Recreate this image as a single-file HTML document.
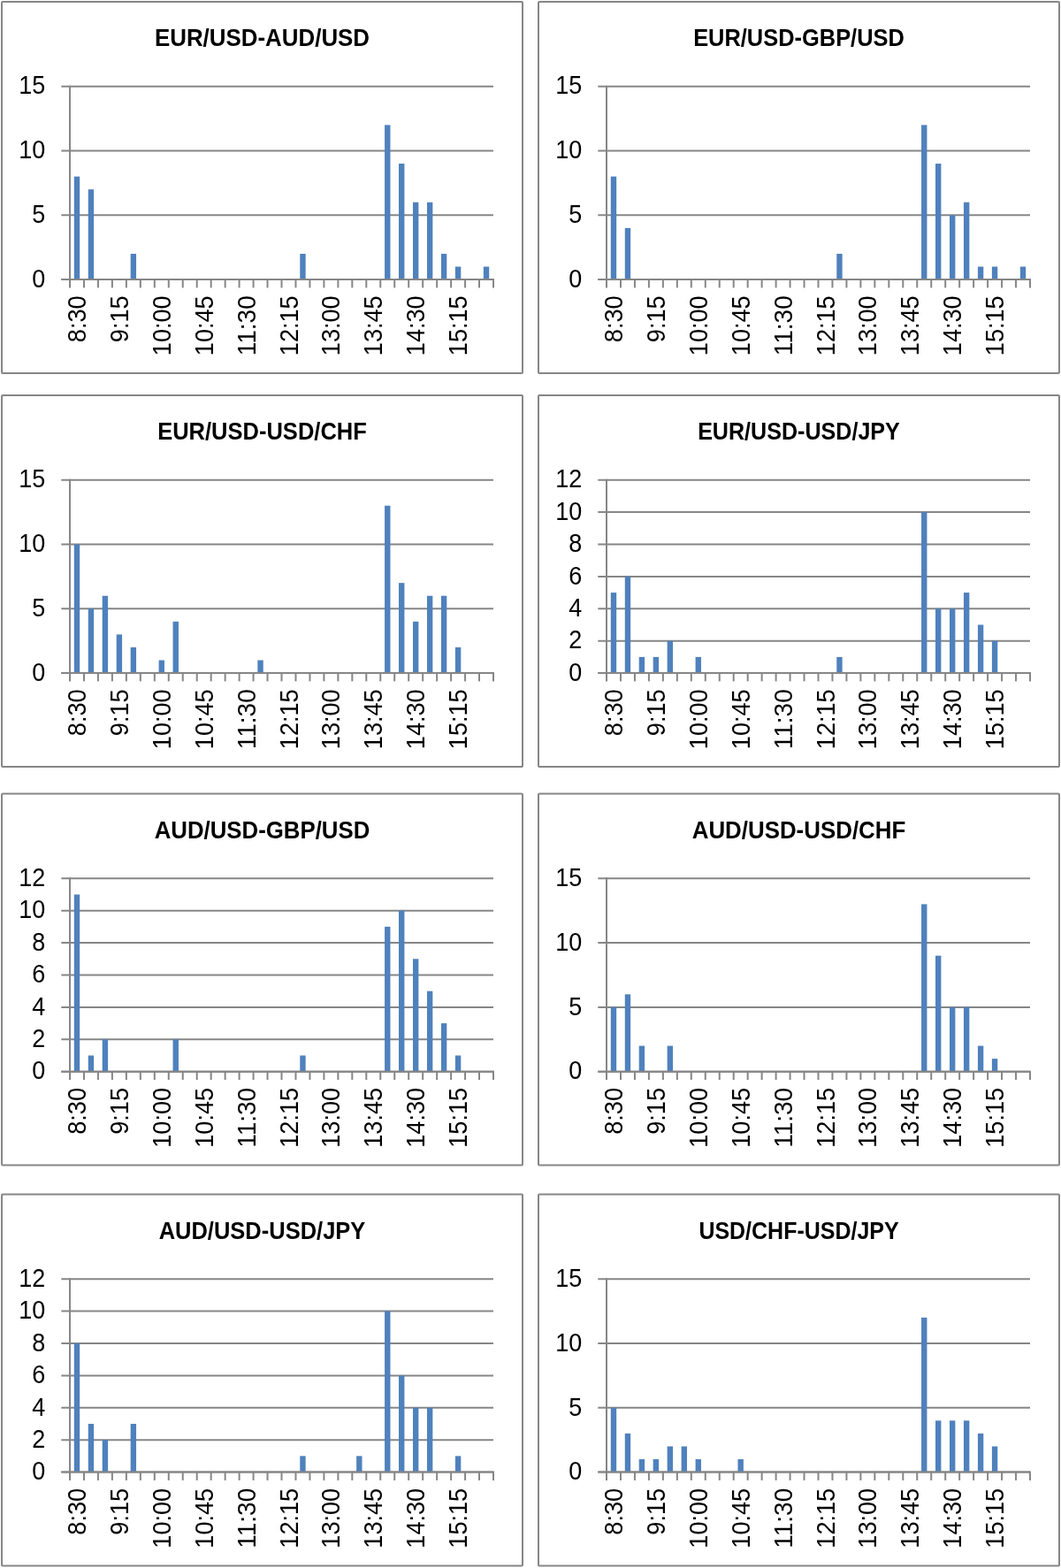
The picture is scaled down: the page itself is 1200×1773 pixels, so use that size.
<!DOCTYPE html>
<html><head><meta charset="utf-8"><title>Charts</title>
<style>
html,body{margin:0;padding:0;background:#fff;}
svg{display:block;}
.l{stroke:#868686;stroke-width:2;}
text{font-family:"Liberation Sans",Arial,sans-serif;fill:#000;}
.t{font-weight:bold;font-size:26.9px;text-anchor:middle;}
.y{font-size:29px;text-anchor:end;}
.x{font-size:29px;text-anchor:end;}
</style></head>
<body>
<svg width="1200" height="1773" viewBox="0 0 1200 1773">
<rect width="1200" height="1773" fill="#fff"/>
<g transform="translate(0,0)">
<rect x="2" y="2" width="589" height="420" rx="1" fill="#fff" stroke="#868686" stroke-width="2"/>
<text class="t" x="296.5" y="52.1" textLength="243.17" lengthAdjust="spacingAndGlyphs">EUR/USD-AUD/USD</text>
<line x1="69.3" y1="316.08" x2="558" y2="316.08" class="l"/>
<line x1="69.3" y1="243.28" x2="558" y2="243.28" class="l"/>
<line x1="69.3" y1="170.47" x2="558" y2="170.47" class="l"/>
<line x1="69.3" y1="97.67" x2="558" y2="97.67" class="l"/>
<rect x="83.79" y="199.59" width="6.39" height="116.49" fill="#4f81bd"/>
<rect x="99.76" y="214.16" width="6.39" height="101.92" fill="#4f81bd"/>
<rect x="147.66" y="286.96" width="6.39" height="29.12" fill="#4f81bd"/>
<rect x="339.26" y="286.96" width="6.39" height="29.12" fill="#4f81bd"/>
<rect x="435.06" y="141.35" width="6.39" height="174.73" fill="#4f81bd"/>
<rect x="451.02" y="185.03" width="6.39" height="131.05" fill="#4f81bd"/>
<rect x="466.99" y="228.72" width="6.39" height="87.36" fill="#4f81bd"/>
<rect x="482.96" y="228.72" width="6.39" height="87.36" fill="#4f81bd"/>
<rect x="498.92" y="286.96" width="6.39" height="29.12" fill="#4f81bd"/>
<rect x="514.89" y="301.52" width="6.39" height="14.56" fill="#4f81bd"/>
<rect x="546.82" y="301.52" width="6.39" height="14.56" fill="#4f81bd"/>
<line x1="79" y1="96.67" x2="79" y2="325.4" class="l"/>
<line x1="69.3" y1="316.08" x2="559" y2="316.08" class="l"/>
<line x1="94.97" y1="316.08" x2="94.97" y2="325.4" class="l"/>
<line x1="110.93" y1="316.08" x2="110.93" y2="325.4" class="l"/>
<line x1="126.9" y1="316.08" x2="126.9" y2="325.4" class="l"/>
<line x1="142.87" y1="316.08" x2="142.87" y2="325.4" class="l"/>
<line x1="158.83" y1="316.08" x2="158.83" y2="325.4" class="l"/>
<line x1="174.8" y1="316.08" x2="174.8" y2="325.4" class="l"/>
<line x1="190.77" y1="316.08" x2="190.77" y2="325.4" class="l"/>
<line x1="206.73" y1="316.08" x2="206.73" y2="325.4" class="l"/>
<line x1="222.7" y1="316.08" x2="222.7" y2="325.4" class="l"/>
<line x1="238.67" y1="316.08" x2="238.67" y2="325.4" class="l"/>
<line x1="254.63" y1="316.08" x2="254.63" y2="325.4" class="l"/>
<line x1="270.6" y1="316.08" x2="270.6" y2="325.4" class="l"/>
<line x1="286.57" y1="316.08" x2="286.57" y2="325.4" class="l"/>
<line x1="302.53" y1="316.08" x2="302.53" y2="325.4" class="l"/>
<line x1="318.5" y1="316.08" x2="318.5" y2="325.4" class="l"/>
<line x1="334.47" y1="316.08" x2="334.47" y2="325.4" class="l"/>
<line x1="350.43" y1="316.08" x2="350.43" y2="325.4" class="l"/>
<line x1="366.4" y1="316.08" x2="366.4" y2="325.4" class="l"/>
<line x1="382.37" y1="316.08" x2="382.37" y2="325.4" class="l"/>
<line x1="398.33" y1="316.08" x2="398.33" y2="325.4" class="l"/>
<line x1="414.3" y1="316.08" x2="414.3" y2="325.4" class="l"/>
<line x1="430.27" y1="316.08" x2="430.27" y2="325.4" class="l"/>
<line x1="446.23" y1="316.08" x2="446.23" y2="325.4" class="l"/>
<line x1="462.2" y1="316.08" x2="462.2" y2="325.4" class="l"/>
<line x1="478.17" y1="316.08" x2="478.17" y2="325.4" class="l"/>
<line x1="494.13" y1="316.08" x2="494.13" y2="325.4" class="l"/>
<line x1="510.1" y1="316.08" x2="510.1" y2="325.4" class="l"/>
<line x1="526.07" y1="316.08" x2="526.07" y2="325.4" class="l"/>
<line x1="542.03" y1="316.08" x2="542.03" y2="325.4" class="l"/>
<line x1="558" y1="316.08" x2="558" y2="325.4" class="l"/>
<text class="y" x="51.2" y="324.83" textLength="15" lengthAdjust="spacingAndGlyphs">0</text>
<text class="y" x="51.2" y="252.03" textLength="15" lengthAdjust="spacingAndGlyphs">5</text>
<text class="y" x="51.2" y="179.22" textLength="30" lengthAdjust="spacingAndGlyphs">10</text>
<text class="y" x="51.2" y="106.42" textLength="30" lengthAdjust="spacingAndGlyphs">15</text>
<text class="x" transform="translate(97.08,334.3) rotate(-90)" textLength="52.92" lengthAdjust="spacingAndGlyphs">8:30</text>
<text class="x" transform="translate(144.98,334.3) rotate(-90)" textLength="52.92" lengthAdjust="spacingAndGlyphs">9:15</text>
<text class="x" transform="translate(192.88,334.3) rotate(-90)" textLength="67.92" lengthAdjust="spacingAndGlyphs">10:00</text>
<text class="x" transform="translate(240.78,334.3) rotate(-90)" textLength="67.92" lengthAdjust="spacingAndGlyphs">10:45</text>
<text class="x" transform="translate(288.68,334.3) rotate(-90)" textLength="67.92" lengthAdjust="spacingAndGlyphs">11:30</text>
<text class="x" transform="translate(336.58,334.3) rotate(-90)" textLength="67.92" lengthAdjust="spacingAndGlyphs">12:15</text>
<text class="x" transform="translate(384.48,334.3) rotate(-90)" textLength="67.92" lengthAdjust="spacingAndGlyphs">13:00</text>
<text class="x" transform="translate(432.38,334.3) rotate(-90)" textLength="67.92" lengthAdjust="spacingAndGlyphs">13:45</text>
<text class="x" transform="translate(480.28,334.3) rotate(-90)" textLength="67.92" lengthAdjust="spacingAndGlyphs">14:30</text>
<text class="x" transform="translate(528.18,334.3) rotate(-90)" textLength="67.92" lengthAdjust="spacingAndGlyphs">15:15</text>
</g>
<g transform="translate(607,0)">
<rect x="2" y="2" width="589" height="420" rx="1" fill="#fff" stroke="#868686" stroke-width="2"/>
<text class="t" x="296.5" y="52.1" textLength="238.69" lengthAdjust="spacingAndGlyphs">EUR/USD-GBP/USD</text>
<line x1="69.3" y1="316.08" x2="558" y2="316.08" class="l"/>
<line x1="69.3" y1="243.28" x2="558" y2="243.28" class="l"/>
<line x1="69.3" y1="170.47" x2="558" y2="170.47" class="l"/>
<line x1="69.3" y1="97.67" x2="558" y2="97.67" class="l"/>
<rect x="83.79" y="199.59" width="6.39" height="116.49" fill="#4f81bd"/>
<rect x="99.76" y="257.84" width="6.39" height="58.24" fill="#4f81bd"/>
<rect x="339.26" y="286.96" width="6.39" height="29.12" fill="#4f81bd"/>
<rect x="435.06" y="141.35" width="6.39" height="174.73" fill="#4f81bd"/>
<rect x="451.02" y="185.03" width="6.39" height="131.05" fill="#4f81bd"/>
<rect x="466.99" y="243.28" width="6.39" height="72.8" fill="#4f81bd"/>
<rect x="482.96" y="228.72" width="6.39" height="87.36" fill="#4f81bd"/>
<rect x="498.92" y="301.52" width="6.39" height="14.56" fill="#4f81bd"/>
<rect x="514.89" y="301.52" width="6.39" height="14.56" fill="#4f81bd"/>
<rect x="546.82" y="301.52" width="6.39" height="14.56" fill="#4f81bd"/>
<line x1="79" y1="96.67" x2="79" y2="325.4" class="l"/>
<line x1="69.3" y1="316.08" x2="559" y2="316.08" class="l"/>
<line x1="94.97" y1="316.08" x2="94.97" y2="325.4" class="l"/>
<line x1="110.93" y1="316.08" x2="110.93" y2="325.4" class="l"/>
<line x1="126.9" y1="316.08" x2="126.9" y2="325.4" class="l"/>
<line x1="142.87" y1="316.08" x2="142.87" y2="325.4" class="l"/>
<line x1="158.83" y1="316.08" x2="158.83" y2="325.4" class="l"/>
<line x1="174.8" y1="316.08" x2="174.8" y2="325.4" class="l"/>
<line x1="190.77" y1="316.08" x2="190.77" y2="325.4" class="l"/>
<line x1="206.73" y1="316.08" x2="206.73" y2="325.4" class="l"/>
<line x1="222.7" y1="316.08" x2="222.7" y2="325.4" class="l"/>
<line x1="238.67" y1="316.08" x2="238.67" y2="325.4" class="l"/>
<line x1="254.63" y1="316.08" x2="254.63" y2="325.4" class="l"/>
<line x1="270.6" y1="316.08" x2="270.6" y2="325.4" class="l"/>
<line x1="286.57" y1="316.08" x2="286.57" y2="325.4" class="l"/>
<line x1="302.53" y1="316.08" x2="302.53" y2="325.4" class="l"/>
<line x1="318.5" y1="316.08" x2="318.5" y2="325.4" class="l"/>
<line x1="334.47" y1="316.08" x2="334.47" y2="325.4" class="l"/>
<line x1="350.43" y1="316.08" x2="350.43" y2="325.4" class="l"/>
<line x1="366.4" y1="316.08" x2="366.4" y2="325.4" class="l"/>
<line x1="382.37" y1="316.08" x2="382.37" y2="325.4" class="l"/>
<line x1="398.33" y1="316.08" x2="398.33" y2="325.4" class="l"/>
<line x1="414.3" y1="316.08" x2="414.3" y2="325.4" class="l"/>
<line x1="430.27" y1="316.08" x2="430.27" y2="325.4" class="l"/>
<line x1="446.23" y1="316.08" x2="446.23" y2="325.4" class="l"/>
<line x1="462.2" y1="316.08" x2="462.2" y2="325.4" class="l"/>
<line x1="478.17" y1="316.08" x2="478.17" y2="325.4" class="l"/>
<line x1="494.13" y1="316.08" x2="494.13" y2="325.4" class="l"/>
<line x1="510.1" y1="316.08" x2="510.1" y2="325.4" class="l"/>
<line x1="526.07" y1="316.08" x2="526.07" y2="325.4" class="l"/>
<line x1="542.03" y1="316.08" x2="542.03" y2="325.4" class="l"/>
<line x1="558" y1="316.08" x2="558" y2="325.4" class="l"/>
<text class="y" x="51.2" y="324.83" textLength="15" lengthAdjust="spacingAndGlyphs">0</text>
<text class="y" x="51.2" y="252.03" textLength="15" lengthAdjust="spacingAndGlyphs">5</text>
<text class="y" x="51.2" y="179.22" textLength="30" lengthAdjust="spacingAndGlyphs">10</text>
<text class="y" x="51.2" y="106.42" textLength="30" lengthAdjust="spacingAndGlyphs">15</text>
<text class="x" transform="translate(97.08,334.3) rotate(-90)" textLength="52.92" lengthAdjust="spacingAndGlyphs">8:30</text>
<text class="x" transform="translate(144.98,334.3) rotate(-90)" textLength="52.92" lengthAdjust="spacingAndGlyphs">9:15</text>
<text class="x" transform="translate(192.88,334.3) rotate(-90)" textLength="67.92" lengthAdjust="spacingAndGlyphs">10:00</text>
<text class="x" transform="translate(240.78,334.3) rotate(-90)" textLength="67.92" lengthAdjust="spacingAndGlyphs">10:45</text>
<text class="x" transform="translate(288.68,334.3) rotate(-90)" textLength="67.92" lengthAdjust="spacingAndGlyphs">11:30</text>
<text class="x" transform="translate(336.58,334.3) rotate(-90)" textLength="67.92" lengthAdjust="spacingAndGlyphs">12:15</text>
<text class="x" transform="translate(384.48,334.3) rotate(-90)" textLength="67.92" lengthAdjust="spacingAndGlyphs">13:00</text>
<text class="x" transform="translate(432.38,334.3) rotate(-90)" textLength="67.92" lengthAdjust="spacingAndGlyphs">13:45</text>
<text class="x" transform="translate(480.28,334.3) rotate(-90)" textLength="67.92" lengthAdjust="spacingAndGlyphs">14:30</text>
<text class="x" transform="translate(528.18,334.3) rotate(-90)" textLength="67.92" lengthAdjust="spacingAndGlyphs">15:15</text>
</g>
<g transform="translate(0,445)">
<rect x="2" y="2" width="589" height="420" rx="1" fill="#fff" stroke="#868686" stroke-width="2"/>
<text class="t" x="296.5" y="52.1" textLength="236.64" lengthAdjust="spacingAndGlyphs">EUR/USD-USD/CHF</text>
<line x1="69.3" y1="316.08" x2="558" y2="316.08" class="l"/>
<line x1="69.3" y1="243.28" x2="558" y2="243.28" class="l"/>
<line x1="69.3" y1="170.47" x2="558" y2="170.47" class="l"/>
<line x1="69.3" y1="97.67" x2="558" y2="97.67" class="l"/>
<rect x="83.79" y="170.47" width="6.39" height="145.61" fill="#4f81bd"/>
<rect x="99.76" y="243.28" width="6.39" height="72.8" fill="#4f81bd"/>
<rect x="115.72" y="228.72" width="6.39" height="87.36" fill="#4f81bd"/>
<rect x="131.69" y="272.4" width="6.39" height="43.68" fill="#4f81bd"/>
<rect x="147.66" y="286.96" width="6.39" height="29.12" fill="#4f81bd"/>
<rect x="179.59" y="301.52" width="6.39" height="14.56" fill="#4f81bd"/>
<rect x="195.56" y="257.84" width="6.39" height="58.24" fill="#4f81bd"/>
<rect x="291.36" y="301.52" width="6.39" height="14.56" fill="#4f81bd"/>
<rect x="435.06" y="126.79" width="6.39" height="189.29" fill="#4f81bd"/>
<rect x="451.02" y="214.16" width="6.39" height="101.92" fill="#4f81bd"/>
<rect x="466.99" y="257.84" width="6.39" height="58.24" fill="#4f81bd"/>
<rect x="482.96" y="228.72" width="6.39" height="87.36" fill="#4f81bd"/>
<rect x="498.92" y="228.72" width="6.39" height="87.36" fill="#4f81bd"/>
<rect x="514.89" y="286.96" width="6.39" height="29.12" fill="#4f81bd"/>
<line x1="79" y1="96.67" x2="79" y2="325.4" class="l"/>
<line x1="69.3" y1="316.08" x2="559" y2="316.08" class="l"/>
<line x1="94.97" y1="316.08" x2="94.97" y2="325.4" class="l"/>
<line x1="110.93" y1="316.08" x2="110.93" y2="325.4" class="l"/>
<line x1="126.9" y1="316.08" x2="126.9" y2="325.4" class="l"/>
<line x1="142.87" y1="316.08" x2="142.87" y2="325.4" class="l"/>
<line x1="158.83" y1="316.08" x2="158.83" y2="325.4" class="l"/>
<line x1="174.8" y1="316.08" x2="174.8" y2="325.4" class="l"/>
<line x1="190.77" y1="316.08" x2="190.77" y2="325.4" class="l"/>
<line x1="206.73" y1="316.08" x2="206.73" y2="325.4" class="l"/>
<line x1="222.7" y1="316.08" x2="222.7" y2="325.4" class="l"/>
<line x1="238.67" y1="316.08" x2="238.67" y2="325.4" class="l"/>
<line x1="254.63" y1="316.08" x2="254.63" y2="325.4" class="l"/>
<line x1="270.6" y1="316.08" x2="270.6" y2="325.4" class="l"/>
<line x1="286.57" y1="316.08" x2="286.57" y2="325.4" class="l"/>
<line x1="302.53" y1="316.08" x2="302.53" y2="325.4" class="l"/>
<line x1="318.5" y1="316.08" x2="318.5" y2="325.4" class="l"/>
<line x1="334.47" y1="316.08" x2="334.47" y2="325.4" class="l"/>
<line x1="350.43" y1="316.08" x2="350.43" y2="325.4" class="l"/>
<line x1="366.4" y1="316.08" x2="366.4" y2="325.4" class="l"/>
<line x1="382.37" y1="316.08" x2="382.37" y2="325.4" class="l"/>
<line x1="398.33" y1="316.08" x2="398.33" y2="325.4" class="l"/>
<line x1="414.3" y1="316.08" x2="414.3" y2="325.4" class="l"/>
<line x1="430.27" y1="316.08" x2="430.27" y2="325.4" class="l"/>
<line x1="446.23" y1="316.08" x2="446.23" y2="325.4" class="l"/>
<line x1="462.2" y1="316.08" x2="462.2" y2="325.4" class="l"/>
<line x1="478.17" y1="316.08" x2="478.17" y2="325.4" class="l"/>
<line x1="494.13" y1="316.08" x2="494.13" y2="325.4" class="l"/>
<line x1="510.1" y1="316.08" x2="510.1" y2="325.4" class="l"/>
<line x1="526.07" y1="316.08" x2="526.07" y2="325.4" class="l"/>
<line x1="542.03" y1="316.08" x2="542.03" y2="325.4" class="l"/>
<line x1="558" y1="316.08" x2="558" y2="325.4" class="l"/>
<text class="y" x="51.2" y="324.83" textLength="15" lengthAdjust="spacingAndGlyphs">0</text>
<text class="y" x="51.2" y="252.03" textLength="15" lengthAdjust="spacingAndGlyphs">5</text>
<text class="y" x="51.2" y="179.22" textLength="30" lengthAdjust="spacingAndGlyphs">10</text>
<text class="y" x="51.2" y="106.42" textLength="30" lengthAdjust="spacingAndGlyphs">15</text>
<text class="x" transform="translate(97.08,334.3) rotate(-90)" textLength="52.92" lengthAdjust="spacingAndGlyphs">8:30</text>
<text class="x" transform="translate(144.98,334.3) rotate(-90)" textLength="52.92" lengthAdjust="spacingAndGlyphs">9:15</text>
<text class="x" transform="translate(192.88,334.3) rotate(-90)" textLength="67.92" lengthAdjust="spacingAndGlyphs">10:00</text>
<text class="x" transform="translate(240.78,334.3) rotate(-90)" textLength="67.92" lengthAdjust="spacingAndGlyphs">10:45</text>
<text class="x" transform="translate(288.68,334.3) rotate(-90)" textLength="67.92" lengthAdjust="spacingAndGlyphs">11:30</text>
<text class="x" transform="translate(336.58,334.3) rotate(-90)" textLength="67.92" lengthAdjust="spacingAndGlyphs">12:15</text>
<text class="x" transform="translate(384.48,334.3) rotate(-90)" textLength="67.92" lengthAdjust="spacingAndGlyphs">13:00</text>
<text class="x" transform="translate(432.38,334.3) rotate(-90)" textLength="67.92" lengthAdjust="spacingAndGlyphs">13:45</text>
<text class="x" transform="translate(480.28,334.3) rotate(-90)" textLength="67.92" lengthAdjust="spacingAndGlyphs">14:30</text>
<text class="x" transform="translate(528.18,334.3) rotate(-90)" textLength="67.92" lengthAdjust="spacingAndGlyphs">15:15</text>
</g>
<g transform="translate(607,445)">
<rect x="2" y="2" width="589" height="420" rx="1" fill="#fff" stroke="#868686" stroke-width="2"/>
<text class="t" x="296.5" y="52.1" textLength="228.73" lengthAdjust="spacingAndGlyphs">EUR/USD-USD/JPY</text>
<line x1="69.3" y1="316.08" x2="558" y2="316.08" class="l"/>
<line x1="69.3" y1="279.68" x2="558" y2="279.68" class="l"/>
<line x1="69.3" y1="243.28" x2="558" y2="243.28" class="l"/>
<line x1="69.3" y1="206.88" x2="558" y2="206.88" class="l"/>
<line x1="69.3" y1="170.47" x2="558" y2="170.47" class="l"/>
<line x1="69.3" y1="134.07" x2="558" y2="134.07" class="l"/>
<line x1="69.3" y1="97.67" x2="558" y2="97.67" class="l"/>
<rect x="83.79" y="225.08" width="6.39" height="91" fill="#4f81bd"/>
<rect x="99.76" y="206.88" width="6.39" height="109.2" fill="#4f81bd"/>
<rect x="115.72" y="297.88" width="6.39" height="18.2" fill="#4f81bd"/>
<rect x="131.69" y="297.88" width="6.39" height="18.2" fill="#4f81bd"/>
<rect x="147.66" y="279.68" width="6.39" height="36.4" fill="#4f81bd"/>
<rect x="179.59" y="297.88" width="6.39" height="18.2" fill="#4f81bd"/>
<rect x="339.26" y="297.88" width="6.39" height="18.2" fill="#4f81bd"/>
<rect x="435.06" y="134.07" width="6.39" height="182.01" fill="#4f81bd"/>
<rect x="451.02" y="243.28" width="6.39" height="72.8" fill="#4f81bd"/>
<rect x="466.99" y="243.28" width="6.39" height="72.8" fill="#4f81bd"/>
<rect x="482.96" y="225.08" width="6.39" height="91" fill="#4f81bd"/>
<rect x="498.92" y="261.48" width="6.39" height="54.6" fill="#4f81bd"/>
<rect x="514.89" y="279.68" width="6.39" height="36.4" fill="#4f81bd"/>
<line x1="79" y1="96.67" x2="79" y2="325.4" class="l"/>
<line x1="69.3" y1="316.08" x2="559" y2="316.08" class="l"/>
<line x1="94.97" y1="316.08" x2="94.97" y2="325.4" class="l"/>
<line x1="110.93" y1="316.08" x2="110.93" y2="325.4" class="l"/>
<line x1="126.9" y1="316.08" x2="126.9" y2="325.4" class="l"/>
<line x1="142.87" y1="316.08" x2="142.87" y2="325.4" class="l"/>
<line x1="158.83" y1="316.08" x2="158.83" y2="325.4" class="l"/>
<line x1="174.8" y1="316.08" x2="174.8" y2="325.4" class="l"/>
<line x1="190.77" y1="316.08" x2="190.77" y2="325.4" class="l"/>
<line x1="206.73" y1="316.08" x2="206.73" y2="325.4" class="l"/>
<line x1="222.7" y1="316.08" x2="222.7" y2="325.4" class="l"/>
<line x1="238.67" y1="316.08" x2="238.67" y2="325.4" class="l"/>
<line x1="254.63" y1="316.08" x2="254.63" y2="325.4" class="l"/>
<line x1="270.6" y1="316.08" x2="270.6" y2="325.4" class="l"/>
<line x1="286.57" y1="316.08" x2="286.57" y2="325.4" class="l"/>
<line x1="302.53" y1="316.08" x2="302.53" y2="325.4" class="l"/>
<line x1="318.5" y1="316.08" x2="318.5" y2="325.4" class="l"/>
<line x1="334.47" y1="316.08" x2="334.47" y2="325.4" class="l"/>
<line x1="350.43" y1="316.08" x2="350.43" y2="325.4" class="l"/>
<line x1="366.4" y1="316.08" x2="366.4" y2="325.4" class="l"/>
<line x1="382.37" y1="316.08" x2="382.37" y2="325.4" class="l"/>
<line x1="398.33" y1="316.08" x2="398.33" y2="325.4" class="l"/>
<line x1="414.3" y1="316.08" x2="414.3" y2="325.4" class="l"/>
<line x1="430.27" y1="316.08" x2="430.27" y2="325.4" class="l"/>
<line x1="446.23" y1="316.08" x2="446.23" y2="325.4" class="l"/>
<line x1="462.2" y1="316.08" x2="462.2" y2="325.4" class="l"/>
<line x1="478.17" y1="316.08" x2="478.17" y2="325.4" class="l"/>
<line x1="494.13" y1="316.08" x2="494.13" y2="325.4" class="l"/>
<line x1="510.1" y1="316.08" x2="510.1" y2="325.4" class="l"/>
<line x1="526.07" y1="316.08" x2="526.07" y2="325.4" class="l"/>
<line x1="542.03" y1="316.08" x2="542.03" y2="325.4" class="l"/>
<line x1="558" y1="316.08" x2="558" y2="325.4" class="l"/>
<text class="y" x="51.2" y="324.83" textLength="15" lengthAdjust="spacingAndGlyphs">0</text>
<text class="y" x="51.2" y="288.43" textLength="15" lengthAdjust="spacingAndGlyphs">2</text>
<text class="y" x="51.2" y="252.03" textLength="15" lengthAdjust="spacingAndGlyphs">4</text>
<text class="y" x="51.2" y="215.62" textLength="15" lengthAdjust="spacingAndGlyphs">6</text>
<text class="y" x="51.2" y="179.22" textLength="15" lengthAdjust="spacingAndGlyphs">8</text>
<text class="y" x="51.2" y="142.82" textLength="30" lengthAdjust="spacingAndGlyphs">10</text>
<text class="y" x="51.2" y="106.42" textLength="30" lengthAdjust="spacingAndGlyphs">12</text>
<text class="x" transform="translate(97.08,334.3) rotate(-90)" textLength="52.92" lengthAdjust="spacingAndGlyphs">8:30</text>
<text class="x" transform="translate(144.98,334.3) rotate(-90)" textLength="52.92" lengthAdjust="spacingAndGlyphs">9:15</text>
<text class="x" transform="translate(192.88,334.3) rotate(-90)" textLength="67.92" lengthAdjust="spacingAndGlyphs">10:00</text>
<text class="x" transform="translate(240.78,334.3) rotate(-90)" textLength="67.92" lengthAdjust="spacingAndGlyphs">10:45</text>
<text class="x" transform="translate(288.68,334.3) rotate(-90)" textLength="67.92" lengthAdjust="spacingAndGlyphs">11:30</text>
<text class="x" transform="translate(336.58,334.3) rotate(-90)" textLength="67.92" lengthAdjust="spacingAndGlyphs">12:15</text>
<text class="x" transform="translate(384.48,334.3) rotate(-90)" textLength="67.92" lengthAdjust="spacingAndGlyphs">13:00</text>
<text class="x" transform="translate(432.38,334.3) rotate(-90)" textLength="67.92" lengthAdjust="spacingAndGlyphs">13:45</text>
<text class="x" transform="translate(480.28,334.3) rotate(-90)" textLength="67.92" lengthAdjust="spacingAndGlyphs">14:30</text>
<text class="x" transform="translate(528.18,334.3) rotate(-90)" textLength="67.92" lengthAdjust="spacingAndGlyphs">15:15</text>
</g>
<g transform="translate(0,895.6)">
<rect x="2" y="2" width="589" height="420" rx="1" fill="#fff" stroke="#868686" stroke-width="2"/>
<text class="t" x="296.5" y="52.1" textLength="243.67" lengthAdjust="spacingAndGlyphs">AUD/USD-GBP/USD</text>
<line x1="69.3" y1="316.08" x2="558" y2="316.08" class="l"/>
<line x1="69.3" y1="279.68" x2="558" y2="279.68" class="l"/>
<line x1="69.3" y1="243.28" x2="558" y2="243.28" class="l"/>
<line x1="69.3" y1="206.88" x2="558" y2="206.88" class="l"/>
<line x1="69.3" y1="170.47" x2="558" y2="170.47" class="l"/>
<line x1="69.3" y1="134.07" x2="558" y2="134.07" class="l"/>
<line x1="69.3" y1="97.67" x2="558" y2="97.67" class="l"/>
<rect x="83.79" y="115.87" width="6.39" height="200.21" fill="#4f81bd"/>
<rect x="99.76" y="297.88" width="6.39" height="18.2" fill="#4f81bd"/>
<rect x="115.72" y="279.68" width="6.39" height="36.4" fill="#4f81bd"/>
<rect x="195.56" y="279.68" width="6.39" height="36.4" fill="#4f81bd"/>
<rect x="339.26" y="297.88" width="6.39" height="18.2" fill="#4f81bd"/>
<rect x="435.06" y="152.27" width="6.39" height="163.81" fill="#4f81bd"/>
<rect x="451.02" y="134.07" width="6.39" height="182.01" fill="#4f81bd"/>
<rect x="466.99" y="188.67" width="6.39" height="127.41" fill="#4f81bd"/>
<rect x="482.96" y="225.08" width="6.39" height="91" fill="#4f81bd"/>
<rect x="498.92" y="261.48" width="6.39" height="54.6" fill="#4f81bd"/>
<rect x="514.89" y="297.88" width="6.39" height="18.2" fill="#4f81bd"/>
<line x1="79" y1="96.67" x2="79" y2="325.4" class="l"/>
<line x1="69.3" y1="316.08" x2="559" y2="316.08" class="l"/>
<line x1="94.97" y1="316.08" x2="94.97" y2="325.4" class="l"/>
<line x1="110.93" y1="316.08" x2="110.93" y2="325.4" class="l"/>
<line x1="126.9" y1="316.08" x2="126.9" y2="325.4" class="l"/>
<line x1="142.87" y1="316.08" x2="142.87" y2="325.4" class="l"/>
<line x1="158.83" y1="316.08" x2="158.83" y2="325.4" class="l"/>
<line x1="174.8" y1="316.08" x2="174.8" y2="325.4" class="l"/>
<line x1="190.77" y1="316.08" x2="190.77" y2="325.4" class="l"/>
<line x1="206.73" y1="316.08" x2="206.73" y2="325.4" class="l"/>
<line x1="222.7" y1="316.08" x2="222.7" y2="325.4" class="l"/>
<line x1="238.67" y1="316.08" x2="238.67" y2="325.4" class="l"/>
<line x1="254.63" y1="316.08" x2="254.63" y2="325.4" class="l"/>
<line x1="270.6" y1="316.08" x2="270.6" y2="325.4" class="l"/>
<line x1="286.57" y1="316.08" x2="286.57" y2="325.4" class="l"/>
<line x1="302.53" y1="316.08" x2="302.53" y2="325.4" class="l"/>
<line x1="318.5" y1="316.08" x2="318.5" y2="325.4" class="l"/>
<line x1="334.47" y1="316.08" x2="334.47" y2="325.4" class="l"/>
<line x1="350.43" y1="316.08" x2="350.43" y2="325.4" class="l"/>
<line x1="366.4" y1="316.08" x2="366.4" y2="325.4" class="l"/>
<line x1="382.37" y1="316.08" x2="382.37" y2="325.4" class="l"/>
<line x1="398.33" y1="316.08" x2="398.33" y2="325.4" class="l"/>
<line x1="414.3" y1="316.08" x2="414.3" y2="325.4" class="l"/>
<line x1="430.27" y1="316.08" x2="430.27" y2="325.4" class="l"/>
<line x1="446.23" y1="316.08" x2="446.23" y2="325.4" class="l"/>
<line x1="462.2" y1="316.08" x2="462.2" y2="325.4" class="l"/>
<line x1="478.17" y1="316.08" x2="478.17" y2="325.4" class="l"/>
<line x1="494.13" y1="316.08" x2="494.13" y2="325.4" class="l"/>
<line x1="510.1" y1="316.08" x2="510.1" y2="325.4" class="l"/>
<line x1="526.07" y1="316.08" x2="526.07" y2="325.4" class="l"/>
<line x1="542.03" y1="316.08" x2="542.03" y2="325.4" class="l"/>
<line x1="558" y1="316.08" x2="558" y2="325.4" class="l"/>
<text class="y" x="51.2" y="324.83" textLength="15" lengthAdjust="spacingAndGlyphs">0</text>
<text class="y" x="51.2" y="288.43" textLength="15" lengthAdjust="spacingAndGlyphs">2</text>
<text class="y" x="51.2" y="252.03" textLength="15" lengthAdjust="spacingAndGlyphs">4</text>
<text class="y" x="51.2" y="215.62" textLength="15" lengthAdjust="spacingAndGlyphs">6</text>
<text class="y" x="51.2" y="179.22" textLength="15" lengthAdjust="spacingAndGlyphs">8</text>
<text class="y" x="51.2" y="142.82" textLength="30" lengthAdjust="spacingAndGlyphs">10</text>
<text class="y" x="51.2" y="106.42" textLength="30" lengthAdjust="spacingAndGlyphs">12</text>
<text class="x" transform="translate(97.08,334.3) rotate(-90)" textLength="52.92" lengthAdjust="spacingAndGlyphs">8:30</text>
<text class="x" transform="translate(144.98,334.3) rotate(-90)" textLength="52.92" lengthAdjust="spacingAndGlyphs">9:15</text>
<text class="x" transform="translate(192.88,334.3) rotate(-90)" textLength="67.92" lengthAdjust="spacingAndGlyphs">10:00</text>
<text class="x" transform="translate(240.78,334.3) rotate(-90)" textLength="67.92" lengthAdjust="spacingAndGlyphs">10:45</text>
<text class="x" transform="translate(288.68,334.3) rotate(-90)" textLength="67.92" lengthAdjust="spacingAndGlyphs">11:30</text>
<text class="x" transform="translate(336.58,334.3) rotate(-90)" textLength="67.92" lengthAdjust="spacingAndGlyphs">12:15</text>
<text class="x" transform="translate(384.48,334.3) rotate(-90)" textLength="67.92" lengthAdjust="spacingAndGlyphs">13:00</text>
<text class="x" transform="translate(432.38,334.3) rotate(-90)" textLength="67.92" lengthAdjust="spacingAndGlyphs">13:45</text>
<text class="x" transform="translate(480.28,334.3) rotate(-90)" textLength="67.92" lengthAdjust="spacingAndGlyphs">14:30</text>
<text class="x" transform="translate(528.18,334.3) rotate(-90)" textLength="67.92" lengthAdjust="spacingAndGlyphs">15:15</text>
</g>
<g transform="translate(607,895.6)">
<rect x="2" y="2" width="589" height="420" rx="1" fill="#fff" stroke="#868686" stroke-width="2"/>
<text class="t" x="296.5" y="52.1" textLength="241.61" lengthAdjust="spacingAndGlyphs">AUD/USD-USD/CHF</text>
<line x1="69.3" y1="316.08" x2="558" y2="316.08" class="l"/>
<line x1="69.3" y1="243.28" x2="558" y2="243.28" class="l"/>
<line x1="69.3" y1="170.47" x2="558" y2="170.47" class="l"/>
<line x1="69.3" y1="97.67" x2="558" y2="97.67" class="l"/>
<rect x="83.79" y="243.28" width="6.39" height="72.8" fill="#4f81bd"/>
<rect x="99.76" y="228.72" width="6.39" height="87.36" fill="#4f81bd"/>
<rect x="115.72" y="286.96" width="6.39" height="29.12" fill="#4f81bd"/>
<rect x="147.66" y="286.96" width="6.39" height="29.12" fill="#4f81bd"/>
<rect x="435.06" y="126.79" width="6.39" height="189.29" fill="#4f81bd"/>
<rect x="451.02" y="185.03" width="6.39" height="131.05" fill="#4f81bd"/>
<rect x="466.99" y="243.28" width="6.39" height="72.8" fill="#4f81bd"/>
<rect x="482.96" y="243.28" width="6.39" height="72.8" fill="#4f81bd"/>
<rect x="498.92" y="286.96" width="6.39" height="29.12" fill="#4f81bd"/>
<rect x="514.89" y="301.52" width="6.39" height="14.56" fill="#4f81bd"/>
<line x1="79" y1="96.67" x2="79" y2="325.4" class="l"/>
<line x1="69.3" y1="316.08" x2="559" y2="316.08" class="l"/>
<line x1="94.97" y1="316.08" x2="94.97" y2="325.4" class="l"/>
<line x1="110.93" y1="316.08" x2="110.93" y2="325.4" class="l"/>
<line x1="126.9" y1="316.08" x2="126.9" y2="325.4" class="l"/>
<line x1="142.87" y1="316.08" x2="142.87" y2="325.4" class="l"/>
<line x1="158.83" y1="316.08" x2="158.83" y2="325.4" class="l"/>
<line x1="174.8" y1="316.08" x2="174.8" y2="325.4" class="l"/>
<line x1="190.77" y1="316.08" x2="190.77" y2="325.4" class="l"/>
<line x1="206.73" y1="316.08" x2="206.73" y2="325.4" class="l"/>
<line x1="222.7" y1="316.08" x2="222.7" y2="325.4" class="l"/>
<line x1="238.67" y1="316.08" x2="238.67" y2="325.4" class="l"/>
<line x1="254.63" y1="316.08" x2="254.63" y2="325.4" class="l"/>
<line x1="270.6" y1="316.08" x2="270.6" y2="325.4" class="l"/>
<line x1="286.57" y1="316.08" x2="286.57" y2="325.4" class="l"/>
<line x1="302.53" y1="316.08" x2="302.53" y2="325.4" class="l"/>
<line x1="318.5" y1="316.08" x2="318.5" y2="325.4" class="l"/>
<line x1="334.47" y1="316.08" x2="334.47" y2="325.4" class="l"/>
<line x1="350.43" y1="316.08" x2="350.43" y2="325.4" class="l"/>
<line x1="366.4" y1="316.08" x2="366.4" y2="325.4" class="l"/>
<line x1="382.37" y1="316.08" x2="382.37" y2="325.4" class="l"/>
<line x1="398.33" y1="316.08" x2="398.33" y2="325.4" class="l"/>
<line x1="414.3" y1="316.08" x2="414.3" y2="325.4" class="l"/>
<line x1="430.27" y1="316.08" x2="430.27" y2="325.4" class="l"/>
<line x1="446.23" y1="316.08" x2="446.23" y2="325.4" class="l"/>
<line x1="462.2" y1="316.08" x2="462.2" y2="325.4" class="l"/>
<line x1="478.17" y1="316.08" x2="478.17" y2="325.4" class="l"/>
<line x1="494.13" y1="316.08" x2="494.13" y2="325.4" class="l"/>
<line x1="510.1" y1="316.08" x2="510.1" y2="325.4" class="l"/>
<line x1="526.07" y1="316.08" x2="526.07" y2="325.4" class="l"/>
<line x1="542.03" y1="316.08" x2="542.03" y2="325.4" class="l"/>
<line x1="558" y1="316.08" x2="558" y2="325.4" class="l"/>
<text class="y" x="51.2" y="324.83" textLength="15" lengthAdjust="spacingAndGlyphs">0</text>
<text class="y" x="51.2" y="252.03" textLength="15" lengthAdjust="spacingAndGlyphs">5</text>
<text class="y" x="51.2" y="179.22" textLength="30" lengthAdjust="spacingAndGlyphs">10</text>
<text class="y" x="51.2" y="106.42" textLength="30" lengthAdjust="spacingAndGlyphs">15</text>
<text class="x" transform="translate(97.08,334.3) rotate(-90)" textLength="52.92" lengthAdjust="spacingAndGlyphs">8:30</text>
<text class="x" transform="translate(144.98,334.3) rotate(-90)" textLength="52.92" lengthAdjust="spacingAndGlyphs">9:15</text>
<text class="x" transform="translate(192.88,334.3) rotate(-90)" textLength="67.92" lengthAdjust="spacingAndGlyphs">10:00</text>
<text class="x" transform="translate(240.78,334.3) rotate(-90)" textLength="67.92" lengthAdjust="spacingAndGlyphs">10:45</text>
<text class="x" transform="translate(288.68,334.3) rotate(-90)" textLength="67.92" lengthAdjust="spacingAndGlyphs">11:30</text>
<text class="x" transform="translate(336.58,334.3) rotate(-90)" textLength="67.92" lengthAdjust="spacingAndGlyphs">12:15</text>
<text class="x" transform="translate(384.48,334.3) rotate(-90)" textLength="67.92" lengthAdjust="spacingAndGlyphs">13:00</text>
<text class="x" transform="translate(432.38,334.3) rotate(-90)" textLength="67.92" lengthAdjust="spacingAndGlyphs">13:45</text>
<text class="x" transform="translate(480.28,334.3) rotate(-90)" textLength="67.92" lengthAdjust="spacingAndGlyphs">14:30</text>
<text class="x" transform="translate(528.18,334.3) rotate(-90)" textLength="67.92" lengthAdjust="spacingAndGlyphs">15:15</text>
</g>
<g transform="translate(0,1348.5)">
<rect x="2" y="2" width="589" height="420" rx="1" fill="#fff" stroke="#868686" stroke-width="2"/>
<text class="t" x="296.5" y="52.1" textLength="233.72" lengthAdjust="spacingAndGlyphs">AUD/USD-USD/JPY</text>
<line x1="69.3" y1="316.08" x2="558" y2="316.08" class="l"/>
<line x1="69.3" y1="279.68" x2="558" y2="279.68" class="l"/>
<line x1="69.3" y1="243.28" x2="558" y2="243.28" class="l"/>
<line x1="69.3" y1="206.88" x2="558" y2="206.88" class="l"/>
<line x1="69.3" y1="170.47" x2="558" y2="170.47" class="l"/>
<line x1="69.3" y1="134.07" x2="558" y2="134.07" class="l"/>
<line x1="69.3" y1="97.67" x2="558" y2="97.67" class="l"/>
<rect x="83.79" y="170.47" width="6.39" height="145.61" fill="#4f81bd"/>
<rect x="99.76" y="261.48" width="6.39" height="54.6" fill="#4f81bd"/>
<rect x="115.72" y="279.68" width="6.39" height="36.4" fill="#4f81bd"/>
<rect x="147.66" y="261.48" width="6.39" height="54.6" fill="#4f81bd"/>
<rect x="339.26" y="297.88" width="6.39" height="18.2" fill="#4f81bd"/>
<rect x="403.12" y="297.88" width="6.39" height="18.2" fill="#4f81bd"/>
<rect x="435.06" y="134.07" width="6.39" height="182.01" fill="#4f81bd"/>
<rect x="451.02" y="206.88" width="6.39" height="109.2" fill="#4f81bd"/>
<rect x="466.99" y="243.28" width="6.39" height="72.8" fill="#4f81bd"/>
<rect x="482.96" y="243.28" width="6.39" height="72.8" fill="#4f81bd"/>
<rect x="514.89" y="297.88" width="6.39" height="18.2" fill="#4f81bd"/>
<line x1="79" y1="96.67" x2="79" y2="325.4" class="l"/>
<line x1="69.3" y1="316.08" x2="559" y2="316.08" class="l"/>
<line x1="94.97" y1="316.08" x2="94.97" y2="325.4" class="l"/>
<line x1="110.93" y1="316.08" x2="110.93" y2="325.4" class="l"/>
<line x1="126.9" y1="316.08" x2="126.9" y2="325.4" class="l"/>
<line x1="142.87" y1="316.08" x2="142.87" y2="325.4" class="l"/>
<line x1="158.83" y1="316.08" x2="158.83" y2="325.4" class="l"/>
<line x1="174.8" y1="316.08" x2="174.8" y2="325.4" class="l"/>
<line x1="190.77" y1="316.08" x2="190.77" y2="325.4" class="l"/>
<line x1="206.73" y1="316.08" x2="206.73" y2="325.4" class="l"/>
<line x1="222.7" y1="316.08" x2="222.7" y2="325.4" class="l"/>
<line x1="238.67" y1="316.08" x2="238.67" y2="325.4" class="l"/>
<line x1="254.63" y1="316.08" x2="254.63" y2="325.4" class="l"/>
<line x1="270.6" y1="316.08" x2="270.6" y2="325.4" class="l"/>
<line x1="286.57" y1="316.08" x2="286.57" y2="325.4" class="l"/>
<line x1="302.53" y1="316.08" x2="302.53" y2="325.4" class="l"/>
<line x1="318.5" y1="316.08" x2="318.5" y2="325.4" class="l"/>
<line x1="334.47" y1="316.08" x2="334.47" y2="325.4" class="l"/>
<line x1="350.43" y1="316.08" x2="350.43" y2="325.4" class="l"/>
<line x1="366.4" y1="316.08" x2="366.4" y2="325.4" class="l"/>
<line x1="382.37" y1="316.08" x2="382.37" y2="325.4" class="l"/>
<line x1="398.33" y1="316.08" x2="398.33" y2="325.4" class="l"/>
<line x1="414.3" y1="316.08" x2="414.3" y2="325.4" class="l"/>
<line x1="430.27" y1="316.08" x2="430.27" y2="325.4" class="l"/>
<line x1="446.23" y1="316.08" x2="446.23" y2="325.4" class="l"/>
<line x1="462.2" y1="316.08" x2="462.2" y2="325.4" class="l"/>
<line x1="478.17" y1="316.08" x2="478.17" y2="325.4" class="l"/>
<line x1="494.13" y1="316.08" x2="494.13" y2="325.4" class="l"/>
<line x1="510.1" y1="316.08" x2="510.1" y2="325.4" class="l"/>
<line x1="526.07" y1="316.08" x2="526.07" y2="325.4" class="l"/>
<line x1="542.03" y1="316.08" x2="542.03" y2="325.4" class="l"/>
<line x1="558" y1="316.08" x2="558" y2="325.4" class="l"/>
<text class="y" x="51.2" y="324.83" textLength="15" lengthAdjust="spacingAndGlyphs">0</text>
<text class="y" x="51.2" y="288.43" textLength="15" lengthAdjust="spacingAndGlyphs">2</text>
<text class="y" x="51.2" y="252.03" textLength="15" lengthAdjust="spacingAndGlyphs">4</text>
<text class="y" x="51.2" y="215.62" textLength="15" lengthAdjust="spacingAndGlyphs">6</text>
<text class="y" x="51.2" y="179.22" textLength="15" lengthAdjust="spacingAndGlyphs">8</text>
<text class="y" x="51.2" y="142.82" textLength="30" lengthAdjust="spacingAndGlyphs">10</text>
<text class="y" x="51.2" y="106.42" textLength="30" lengthAdjust="spacingAndGlyphs">12</text>
<text class="x" transform="translate(97.08,334.3) rotate(-90)" textLength="52.92" lengthAdjust="spacingAndGlyphs">8:30</text>
<text class="x" transform="translate(144.98,334.3) rotate(-90)" textLength="52.92" lengthAdjust="spacingAndGlyphs">9:15</text>
<text class="x" transform="translate(192.88,334.3) rotate(-90)" textLength="67.92" lengthAdjust="spacingAndGlyphs">10:00</text>
<text class="x" transform="translate(240.78,334.3) rotate(-90)" textLength="67.92" lengthAdjust="spacingAndGlyphs">10:45</text>
<text class="x" transform="translate(288.68,334.3) rotate(-90)" textLength="67.92" lengthAdjust="spacingAndGlyphs">11:30</text>
<text class="x" transform="translate(336.58,334.3) rotate(-90)" textLength="67.92" lengthAdjust="spacingAndGlyphs">12:15</text>
<text class="x" transform="translate(384.48,334.3) rotate(-90)" textLength="67.92" lengthAdjust="spacingAndGlyphs">13:00</text>
<text class="x" transform="translate(432.38,334.3) rotate(-90)" textLength="67.92" lengthAdjust="spacingAndGlyphs">13:45</text>
<text class="x" transform="translate(480.28,334.3) rotate(-90)" textLength="67.92" lengthAdjust="spacingAndGlyphs">14:30</text>
<text class="x" transform="translate(528.18,334.3) rotate(-90)" textLength="67.92" lengthAdjust="spacingAndGlyphs">15:15</text>
</g>
<g transform="translate(607,1348.5)">
<rect x="2" y="2" width="589" height="420" rx="1" fill="#fff" stroke="#868686" stroke-width="2"/>
<text class="t" x="296.5" y="52.1" textLength="226.23" lengthAdjust="spacingAndGlyphs">USD/CHF-USD/JPY</text>
<line x1="69.3" y1="316.08" x2="558" y2="316.08" class="l"/>
<line x1="69.3" y1="243.28" x2="558" y2="243.28" class="l"/>
<line x1="69.3" y1="170.47" x2="558" y2="170.47" class="l"/>
<line x1="69.3" y1="97.67" x2="558" y2="97.67" class="l"/>
<rect x="83.79" y="243.28" width="6.39" height="72.8" fill="#4f81bd"/>
<rect x="99.76" y="272.4" width="6.39" height="43.68" fill="#4f81bd"/>
<rect x="115.72" y="301.52" width="6.39" height="14.56" fill="#4f81bd"/>
<rect x="131.69" y="301.52" width="6.39" height="14.56" fill="#4f81bd"/>
<rect x="147.66" y="286.96" width="6.39" height="29.12" fill="#4f81bd"/>
<rect x="163.62" y="286.96" width="6.39" height="29.12" fill="#4f81bd"/>
<rect x="179.59" y="301.52" width="6.39" height="14.56" fill="#4f81bd"/>
<rect x="227.49" y="301.52" width="6.39" height="14.56" fill="#4f81bd"/>
<rect x="435.06" y="141.35" width="6.39" height="174.73" fill="#4f81bd"/>
<rect x="451.02" y="257.84" width="6.39" height="58.24" fill="#4f81bd"/>
<rect x="466.99" y="257.84" width="6.39" height="58.24" fill="#4f81bd"/>
<rect x="482.96" y="257.84" width="6.39" height="58.24" fill="#4f81bd"/>
<rect x="498.92" y="272.4" width="6.39" height="43.68" fill="#4f81bd"/>
<rect x="514.89" y="286.96" width="6.39" height="29.12" fill="#4f81bd"/>
<line x1="79" y1="96.67" x2="79" y2="325.4" class="l"/>
<line x1="69.3" y1="316.08" x2="559" y2="316.08" class="l"/>
<line x1="94.97" y1="316.08" x2="94.97" y2="325.4" class="l"/>
<line x1="110.93" y1="316.08" x2="110.93" y2="325.4" class="l"/>
<line x1="126.9" y1="316.08" x2="126.9" y2="325.4" class="l"/>
<line x1="142.87" y1="316.08" x2="142.87" y2="325.4" class="l"/>
<line x1="158.83" y1="316.08" x2="158.83" y2="325.4" class="l"/>
<line x1="174.8" y1="316.08" x2="174.8" y2="325.4" class="l"/>
<line x1="190.77" y1="316.08" x2="190.77" y2="325.4" class="l"/>
<line x1="206.73" y1="316.08" x2="206.73" y2="325.4" class="l"/>
<line x1="222.7" y1="316.08" x2="222.7" y2="325.4" class="l"/>
<line x1="238.67" y1="316.08" x2="238.67" y2="325.4" class="l"/>
<line x1="254.63" y1="316.08" x2="254.63" y2="325.4" class="l"/>
<line x1="270.6" y1="316.08" x2="270.6" y2="325.4" class="l"/>
<line x1="286.57" y1="316.08" x2="286.57" y2="325.4" class="l"/>
<line x1="302.53" y1="316.08" x2="302.53" y2="325.4" class="l"/>
<line x1="318.5" y1="316.08" x2="318.5" y2="325.4" class="l"/>
<line x1="334.47" y1="316.08" x2="334.47" y2="325.4" class="l"/>
<line x1="350.43" y1="316.08" x2="350.43" y2="325.4" class="l"/>
<line x1="366.4" y1="316.08" x2="366.4" y2="325.4" class="l"/>
<line x1="382.37" y1="316.08" x2="382.37" y2="325.4" class="l"/>
<line x1="398.33" y1="316.08" x2="398.33" y2="325.4" class="l"/>
<line x1="414.3" y1="316.08" x2="414.3" y2="325.4" class="l"/>
<line x1="430.27" y1="316.08" x2="430.27" y2="325.4" class="l"/>
<line x1="446.23" y1="316.08" x2="446.23" y2="325.4" class="l"/>
<line x1="462.2" y1="316.08" x2="462.2" y2="325.4" class="l"/>
<line x1="478.17" y1="316.08" x2="478.17" y2="325.4" class="l"/>
<line x1="494.13" y1="316.08" x2="494.13" y2="325.4" class="l"/>
<line x1="510.1" y1="316.08" x2="510.1" y2="325.4" class="l"/>
<line x1="526.07" y1="316.08" x2="526.07" y2="325.4" class="l"/>
<line x1="542.03" y1="316.08" x2="542.03" y2="325.4" class="l"/>
<line x1="558" y1="316.08" x2="558" y2="325.4" class="l"/>
<text class="y" x="51.2" y="324.83" textLength="15" lengthAdjust="spacingAndGlyphs">0</text>
<text class="y" x="51.2" y="252.03" textLength="15" lengthAdjust="spacingAndGlyphs">5</text>
<text class="y" x="51.2" y="179.22" textLength="30" lengthAdjust="spacingAndGlyphs">10</text>
<text class="y" x="51.2" y="106.42" textLength="30" lengthAdjust="spacingAndGlyphs">15</text>
<text class="x" transform="translate(97.08,334.3) rotate(-90)" textLength="52.92" lengthAdjust="spacingAndGlyphs">8:30</text>
<text class="x" transform="translate(144.98,334.3) rotate(-90)" textLength="52.92" lengthAdjust="spacingAndGlyphs">9:15</text>
<text class="x" transform="translate(192.88,334.3) rotate(-90)" textLength="67.92" lengthAdjust="spacingAndGlyphs">10:00</text>
<text class="x" transform="translate(240.78,334.3) rotate(-90)" textLength="67.92" lengthAdjust="spacingAndGlyphs">10:45</text>
<text class="x" transform="translate(288.68,334.3) rotate(-90)" textLength="67.92" lengthAdjust="spacingAndGlyphs">11:30</text>
<text class="x" transform="translate(336.58,334.3) rotate(-90)" textLength="67.92" lengthAdjust="spacingAndGlyphs">12:15</text>
<text class="x" transform="translate(384.48,334.3) rotate(-90)" textLength="67.92" lengthAdjust="spacingAndGlyphs">13:00</text>
<text class="x" transform="translate(432.38,334.3) rotate(-90)" textLength="67.92" lengthAdjust="spacingAndGlyphs">13:45</text>
<text class="x" transform="translate(480.28,334.3) rotate(-90)" textLength="67.92" lengthAdjust="spacingAndGlyphs">14:30</text>
<text class="x" transform="translate(528.18,334.3) rotate(-90)" textLength="67.92" lengthAdjust="spacingAndGlyphs">15:15</text>
</g>
</svg>
</body></html>
